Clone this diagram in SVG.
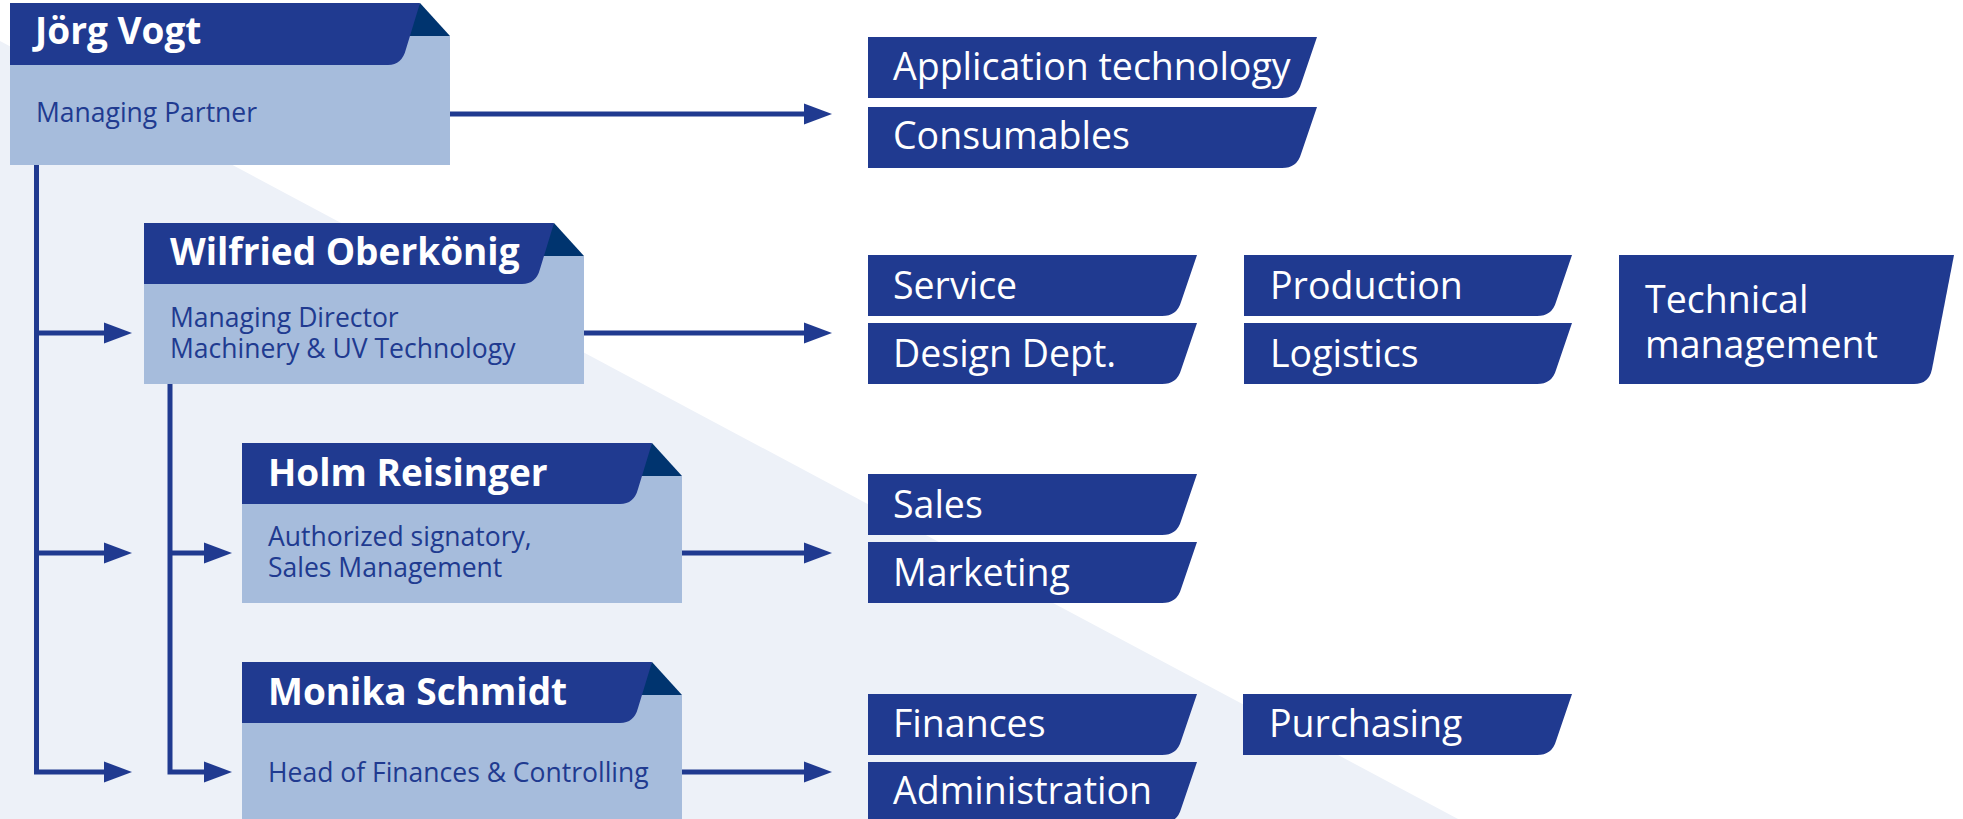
<svg xmlns="http://www.w3.org/2000/svg" width="1963" height="819" viewBox="0 0 1963 819">
<defs>
<style>
.bg{fill:#edf1f8}
.body{fill:#a6bcdc}
.head{fill:#203a90}
.corner{fill:#00346f}
.dept{fill:#203a90}
.name{font-family:"Open Sans","Noto Sans",sans-serif;font-weight:700;font-size:37px;fill:#ffffff}
.sub{font-family:"Open Sans","Noto Sans",sans-serif;font-size:26.5px;fill:#203a90}
.dt{font-family:"Open Sans","Noto Sans",sans-serif;font-size:37.5px;fill:#ffffff}
.ln{stroke:#203a90;stroke-width:5;fill:none}
.ah{fill:#203a90}
</style>
</defs>
<rect width="1963" height="819" fill="#ffffff"/>
<polygon class="bg" points="0,41 1458,819 0,819"/>

<g id="connectors">
<polyline class="ln" points="36.5,165 36.5,772 104,772"/>
<line class="ln" x1="36.5" y1="333" x2="104" y2="333"/>
<line class="ln" x1="36.5" y1="553" x2="104" y2="553"/>
<polygon class="ah" points="104,322.5 132,333 104,343.5"/>
<polygon class="ah" points="104,542.5 132,553 104,563.5"/>
<polygon class="ah" points="104,761.5 132,772 104,782.5"/>
<polyline class="ln" points="170,384 170,772 204,772"/>
<line class="ln" x1="170" y1="553" x2="204" y2="553"/>
<polygon class="ah" points="204,542.5 232,553 204,563.5"/>
<polygon class="ah" points="204,761.5 232,772 204,782.5"/>
<line class="ln" x1="449" y1="114" x2="804" y2="114"/>
<polygon class="ah" points="804,103.5 832,114 804,124.5"/>
<line class="ln" x1="584" y1="333" x2="804" y2="333"/>
<polygon class="ah" points="804,322.5 832,333 804,343.5"/>
<line class="ln" x1="682" y1="553" x2="804" y2="553"/>
<polygon class="ah" points="804,542.5 832,553 804,563.5"/>
<line class="ln" x1="682" y1="772" x2="804" y2="772"/>
<polygon class="ah" points="804,761.5 832,772 804,782.5"/>
</g>

<g id="joerg-vogt">
<rect class="body" x="10" y="36" width="440" height="129"/>
<polygon class="corner" points="420,3 450,36 400,36"/>
<path class="head" d="M10,3 H420 L406,49 Q402,65 388,65 H10 Z"/>
<text class="name" x="35" y="44">Jörg Vogt</text>
<text class="sub" x="36" y="122">Managing Partner</text>
</g>

<g id="wilfried-oberkoenig">
<rect class="body" x="144" y="256" width="440" height="128"/>
<polygon class="corner" points="554,223 584,256 534,256"/>
<path class="head" d="M144,223 H554 L540,269 Q536,284 522,284 H144 Z"/>
<text class="name" x="170" y="265">Wilfried Oberkönig</text>
<text class="sub" x="170" y="327">Managing Director</text>
<text class="sub" x="170" y="358">Machinery &amp; UV Technology</text>
</g>

<g id="holm-reisinger">
<rect class="body" x="242" y="476" width="440" height="127"/>
<polygon class="corner" points="652,443 682,476 632,476"/>
<path class="head" d="M242,443 H652 L638,489 Q634,504 620,504 H242 Z"/>
<text class="name" x="268" y="486">Holm Reisinger</text>
<text class="sub" x="268" y="546">Authorized signatory,</text>
<text class="sub" x="268" y="577">Sales Management</text>
</g>

<g id="monika-schmidt">
<rect class="body" x="242" y="695" width="440" height="130"/>
<polygon class="corner" points="652,662 682,695 632,695"/>
<path class="head" d="M242,662 H652 L638,708 Q634,723 620,723 H242 Z"/>
<text class="name" x="268" y="705">Monika Schmidt</text>
<text class="sub" x="268" y="782">Head of Finances &amp; Controlling</text>
</g>

<g id="application-technology">
<path class="dept" d="M868,37 H1317 L1301,84 Q1297,98 1282,98 H868 Z"/>
<text class="dt" x="893" y="80">Application technology</text>
</g>
<g id="consumables">
<path class="dept" d="M868,107 H1317 L1301,154 Q1297,168 1282,168 H868 Z"/>
<text class="dt" x="893" y="149">Consumables</text>
</g>

<g id="service">
<path class="dept" d="M868,255 H1197 L1181,302 Q1177,316 1162,316 H868 Z"/>
<text class="dt" x="893" y="299">Service</text>
</g>
<g id="design-dept">
<path class="dept" d="M868,323 H1197 L1181,370 Q1177,384 1162,384 H868 Z"/>
<text class="dt" x="893" y="367">Design Dept.</text>
</g>
<g id="production">
<path class="dept" d="M1244,255 H1572 L1556,302 Q1552,316 1537,316 H1244 Z"/>
<text class="dt" x="1270" y="299">Production</text>
</g>
<g id="logistics">
<path class="dept" d="M1244,323 H1572 L1556,370 Q1552,384 1537,384 H1244 Z"/>
<text class="dt" x="1270" y="367">Logistics</text>
</g>
<g id="technical-management">
<path class="dept" d="M1619,255 H1954 L1932,369 Q1929,384 1914,384 H1619 Z"/>
<text class="dt" x="1645" y="313">Technical</text>
<text class="dt" x="1645" y="358">management</text>
</g>

<g id="sales">
<path class="dept" d="M868,474 H1197 L1181,521 Q1177,535 1162,535 H868 Z"/>
<text class="dt" x="893" y="518">Sales</text>
</g>
<g id="marketing">
<path class="dept" d="M868,542 H1197 L1181,589 Q1177,603 1162,603 H868 Z"/>
<text class="dt" x="893" y="586">Marketing</text>
</g>

<g id="finances">
<path class="dept" d="M868,694 H1197 L1181,741 Q1177,755 1162,755 H868 Z"/>
<text class="dt" x="893" y="737">Finances</text>
</g>
<g id="administration">
<path class="dept" d="M868,762 H1197 L1181,809 Q1177,823 1162,823 H868 Z"/>
<text class="dt" x="893" y="804">Administration</text>
</g>
<g id="purchasing">
<path class="dept" d="M1243,694 H1572 L1556,741 Q1552,755 1537,755 H1243 Z"/>
<text class="dt" x="1269" y="737">Purchasing</text>
</g>
</svg>
